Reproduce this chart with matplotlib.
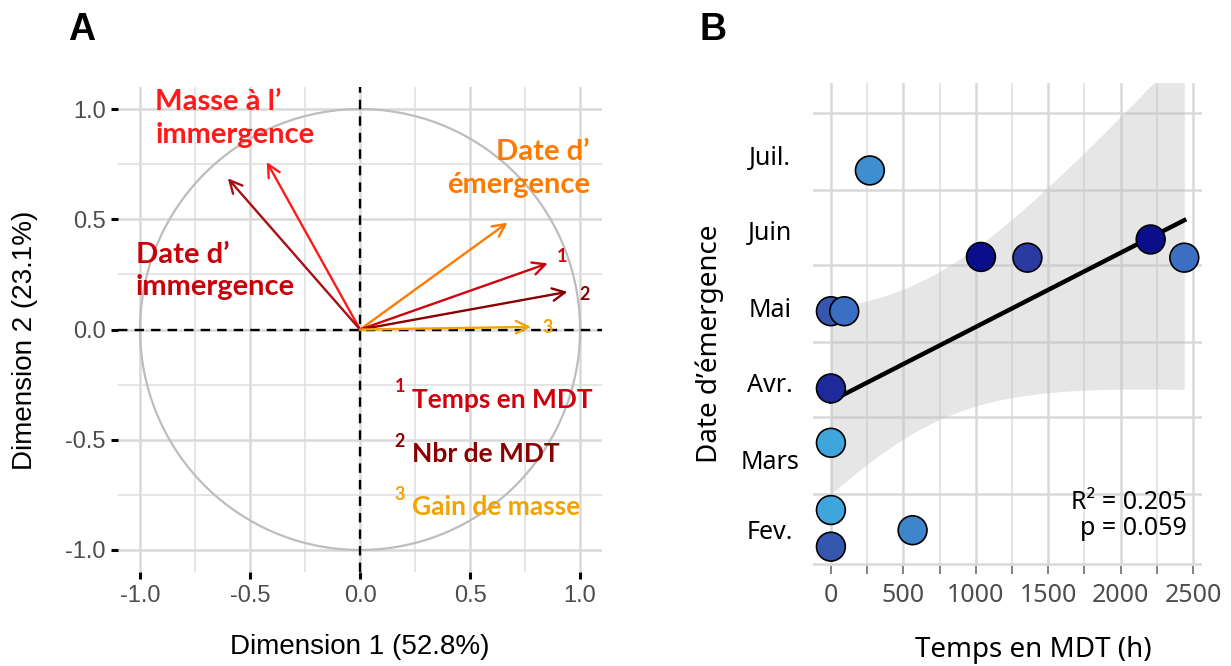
import numpy as np
import matplotlib
matplotlib.use("Agg")
import matplotlib.pyplot as plt

plt.rcParams['axes.unicode_minus'] = False

# ---- Panel A data : PCA variable loadings ----
var_names = ["Masse à l’\nimmergence", "Date d’\nimmergence", "Date d’\némergence",
             "Temps en MDT", "Nbr de MDT", "Gain de masse"]
dim1 = [-0.424, -0.601, 0.670, 0.853, 0.943, 0.777]
dim2 = [0.760, 0.686, 0.485, 0.300, 0.171, 0.012]
var_colors = ["#ff1a1a", "#a50f15", "#ff7a00", "#d0000f", "#8b0000", "#f2a300"]
label_colors = ["#ff1a1a", "#c8000a", "#ff7a00", "#d0000f", "#8b0000", "#f2a300"]
pca_ticks = [-1.0, -0.5, 0.0, 0.5, 1.0]
pca_tick_labels = ["-1.0", "-0.5", "0.0", "0.5", "1.0"]

# ---- Panel B data : time in MDT vs emergence date (day of year) ----
temps_mdt = [269, 1036, 1357, 2208, 2440, 0, 92, 0, 0, 0, 0, 564]
date_emergence = [190, 155.3, 155, 162.3, 155, 133.5, 133.5, 102.5, 80.7, 53.7, 39, 45.6]
point_colors = ["#3f8fd0", "#0b0e8a", "#2a3aa0", "#0b0e8a", "#3b6fc4", "#3557b0",
                "#3b6fc4", "#1f2a9a", "#3fa6dc", "#3fa6dc", "#3557b0", "#3d86cc"]
month_starts = [32, 60, 91, 121, 152, 182, 213]
month_names = ["Fev.", "Mars", "Avr.", "Mai", "Juin", "Juil."]
x_ticks_b = [0, 500, 1000, 1500, 2000, 2500]
r2_text = "R² = 0.205\np = 0.059"

fig = plt.figure(figsize=(12.31, 6.66), dpi=100)

# ================= Panel A =================
axA = fig.add_axes([0.0959, 0.1411, 0.3932, 0.7282])
axA.set_xlim(-1.1, 1.1)
axA.set_ylim(-1.1, 1.1)
for s in axA.spines.values():
    s.set_visible(False)
axA.set_xticks(pca_ticks, labels=pca_tick_labels)
axA.set_yticks(pca_ticks, labels=pca_tick_labels)
axA.set_xticks([-0.75, -0.25, 0.25, 0.75], minor=True)
axA.set_yticks([-0.75, -0.25, 0.25, 0.75], minor=True)
axA.grid(which='major', color='#d9d9d9', lw=1.8, zorder=0)
axA.grid(which='minor', color='#dedede', lw=1.1, zorder=0)
axA.set_axisbelow(True)
axA.tick_params(which='major', length=5, width=2.2, color='black',
                labelsize=17, labelcolor='#4d4d4d', pad=4)
axA.tick_params(which='minor', length=0)
for lab in axA.get_xticklabels() + axA.get_yticklabels():
    lab.set_family('Liberation Sans')

# unit circle
theta = np.linspace(0, 2 * np.pi, 400)
axA.plot(np.cos(theta), np.sin(theta), color='#bdbdbd', lw=1.6, zorder=1)
axA.axhline(0, color='black', lw=1.7, ls=(0, (4, 3)), zorder=2)
axA.axvline(0, color='black', lw=1.7, ls=(0, (4, 3)), zorder=2)

for x, y, c in zip(dim1, dim2, var_colors):
    axA.annotate('', xy=(x, y), xytext=(0, 0),
                 arrowprops=dict(arrowstyle='->,head_length=0.9,head_width=0.45',
                                 color=c, lw=1.7, shrinkA=0, shrinkB=0),
                 zorder=3)

bold = dict(family='Lato', weight='bold', fontsize=21)
axA.text(-0.93, 1.09, var_names[0], color=label_colors[0], ha='left', va='top',
         linespacing=1.3, **bold)
axA.text(-1.02, 0.397, var_names[1], color=label_colors[1], ha='left', va='top',
         linespacing=1.3, **bold)
axA.text(1.045, 0.863, var_names[2], color=label_colors[2], ha='right', va='top',
         linespacing=1.3, multialignment='right', **bold)

# numbered arrows
num_pos = [(0.92, 0.33), (1.02, 0.16), (0.855, 0.01)]
for i, (px, py) in enumerate(num_pos):
    axA.text(px, py, str(i + 1), color=label_colors[3 + i], ha='center', va='center',
             family='Lato', weight='bold', fontsize=13)

# numbered legend
leg_y = [-0.318, -0.564, -0.805]
for i, ly in enumerate(leg_y):
    axA.text(0.18, ly + 0.058, str(i + 1), color=label_colors[3 + i], ha='center',
             va='center', family='Lato', weight='bold', fontsize=13)
    axA.text(0.235, ly, var_names[3 + i], color=label_colors[3 + i], ha='left',
             va='center', family='Lato', weight='bold', fontsize=19)

axA.set_xlabel("Dimension 1 (52.8%)", fontsize=20, family='Liberation Sans')
axA.set_ylabel("Dimension 2 (23.1%)", fontsize=20, family='Liberation Sans')
axA.xaxis.set_label_coords(0.5, -0.155)
axA.xaxis.label.set_va('center')
axA.yaxis.set_label_coords(-0.192, 0.478)
axA.yaxis.label.set_va('center')

# ================= Panel B =================
axB = fig.add_axes([0.6604, 0.150, 0.316, 0.725])
axB.set_xlim(-124, 2562)
axB.set_ylim(31.2, 225)
for s in axB.spines.values():
    s.set_visible(False)

axB.set_xticks(x_ticks_b)
axB.set_xticks([t + 250 for t in x_ticks_b[:-1]], minor=True)
axB.set_yticks(month_starts, labels=[''] * len(month_starts))
axB.set_yticks([m + 14 for m in month_starts[:-1]], labels=month_names, minor=True)
axB.grid(axis='x', which='major', color='#d9d9d9', lw=1.8)
axB.grid(axis='x', which='minor', color='#dedede', lw=1.1)
axB.grid(axis='y', which='major', color='#d9d9d9', lw=1.8)
axB.set_axisbelow(True)
axB.tick_params(axis='x', which='both', length=6, width=1.3, color='#777777',
                labelsize=18, labelcolor='#4d4d4d', pad=6)
axB.tick_params(axis='y', which='both', length=0, labelsize=18, labelcolor='black', pad=31)
for lab in axB.get_yticklabels(minor=True):
    lab.set_ha('center')
for lab in axB.get_xticklabels() + axB.get_yticklabels(minor=True):
    lab.set_family('Noto Sans')

# linear fit with 95% confidence band
xd = np.array(temps_mdt, dtype=float)
yd = np.array(date_emergence, dtype=float)
slope, intercept = np.polyfit(xd, yd, 1)
n = len(xd)
resid = yd - (slope * xd + intercept)
s_err = np.sqrt(np.sum(resid ** 2) / (n - 2))
sxx = np.sum((xd - xd.mean()) ** 2)
t_val = 2.228  # t(0.975, df=10)
xf = np.linspace(xd.min(), xd.max(), 200)
yf = slope * xf + intercept
ci = t_val * s_err * np.sqrt(1 / n + (xf - xd.mean()) ** 2 / sxx)
axB.fill_between(xf, yf - ci, yf + ci, color='#bfbfbf', alpha=0.38, lw=0, zorder=2)
axB.plot(xf, yf, color='black', lw=3.2, zorder=3)

axB.scatter(xd, yd, s=430, c=point_colors, edgecolors='black', linewidths=1.2, zorder=4)

axB.text(0.962, 0.105, r2_text, transform=axB.transAxes, ha='right', va='center',
         multialignment='right', fontsize=18, family='Noto Sans', linespacing=1.05)

axB.set_xlabel("Temps en MDT (h)", fontsize=20, family='Noto Sans')
axB.set_ylabel("Date d’émergence", fontsize=20, family='Noto Sans')
axB.xaxis.set_label_coords(0.566, -0.174)
axB.xaxis.label.set_va('center')
axB.yaxis.set_label_coords(-0.265, 0.46)
axB.yaxis.label.set_va('center')

# panel letters
fig.text(68 / 1231, 1 - 30 / 666, "A", fontsize=27, weight='bold',
         family='Liberation Sans', va='center', ha='left')
fig.text(700 / 1231, 1 - 30 / 666, "B", fontsize=27, weight='bold',
         family='Liberation Sans', va='center', ha='left')

fig.savefig("out.png", dpi=100)
